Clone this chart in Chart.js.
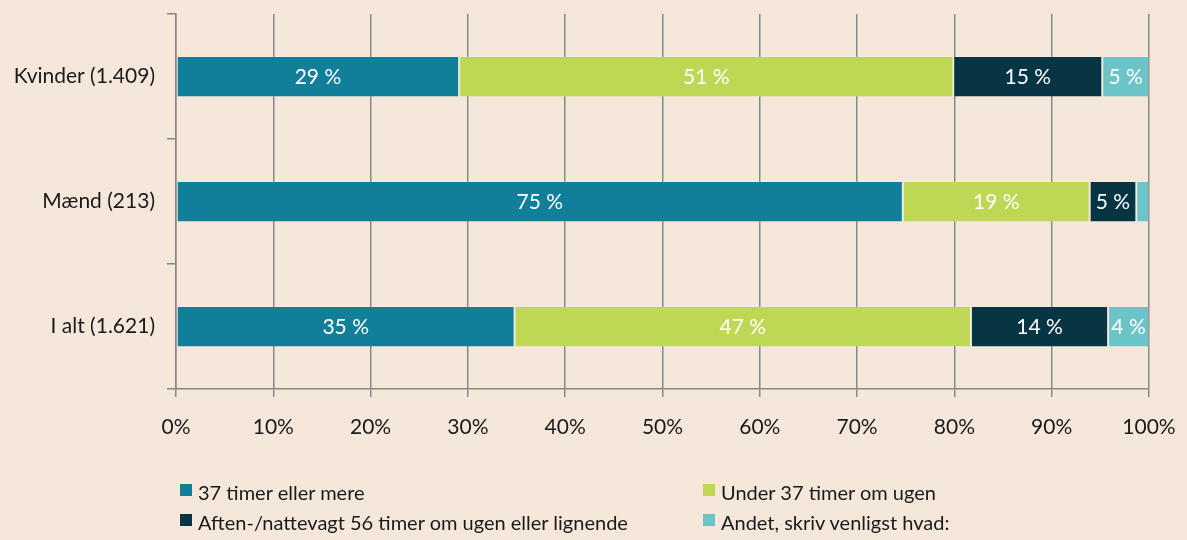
<!DOCTYPE html>
<html><head><meta charset="utf-8">
<script src="https://cdn.jsdelivr.net/npm/chart.js@4/dist/chart.umd.min.js"></script>
<style>
html,body{margin:0;padding:0;background:#F5E8DB;}
#wrap{position:relative;width:1187px;height:540px;background:#F5E8DB;}
canvas{position:absolute;left:0;top:0;}
#legend{position:absolute;left:180px;top:480px;display:grid;grid-template-columns:523px 400px;row-gap:7px;font-family:Lato,"Open Sans",sans-serif;font-size:20px;color:#1a1a1a;}
#legend .it{display:flex;align-items:center;height:23px;white-space:nowrap;}
#legend .sw{width:12px;height:12px;margin-right:6px;margin-top:-4px;}
</style></head>
<body><div id="wrap"><canvas id="c" width="1187" height="540"></canvas><div id="legend"></div></div>
<script>
const categories = ["Kvinder (1.409)", "Mænd (213)", "I alt (1.621)"];
const seriesNames = ["37 timer eller mere", "Under 37 timer om ugen", "Aften-/nattevagt 56 timer om ugen eller lignende", "Andet, skriv venligst hvad:"];
const s37 = [29.1, 74.7, 34.8];
const sUnder = [50.8, 19.2, 46.9];
const sNight = [15.3, 4.8, 14.1];
const sOther = [4.8, 1.3, 4.2];
const labels37 = ["29 %", "75 %", "35 %"];
const labelsUnder = ["51 %", "19 %", "47 %"];
const labelsNight = ["15 %", "5 %", "14 %"];
const labelsOther = ["5 %", "", "4 %"];
const xTicks = ["0%","10%","20%","30%","40%","50%","60%","70%","80%","90%","100%"];
const colors = ["#117E9A", "#BED856", "#073543", "#6BC4C8"];

const seriesData = [s37, sUnder, sNight, sOther];
const seriesLabels = [labels37, labelsUnder, labelsNight, labelsOther];
const FONT = 'Lato, "Open Sans", sans-serif';

const lg = document.getElementById('legend');
[0,1,2,3].forEach(i=>{
  const d=document.createElement('div');d.className='it';
  d.innerHTML='<span class="sw" style="background:'+colors[i]+'"></span><span></span>';
  d.lastChild.textContent=seriesNames[i];
  lg.appendChild(d);
});

const labelPlugin = {
  id:'segLabels',
  afterDatasetsDraw(chart){
    const ctx=chart.ctx;
    ctx.save();
    ctx.fillStyle='#ffffff';
    ctx.font='21px '+FONT;
    ctx.textAlign='center';ctx.textBaseline='middle';
    chart.data.datasets.forEach((ds,di)=>{
      const meta=chart.getDatasetMeta(di);
      meta.data.forEach((el,i)=>{
        const t=seriesLabels[di][i];
        if(!t) return;
        const cx=(el.x+el.base)/2;
        ctx.fillText(t,cx,el.y+1);
      });
    });
    ctx.restore();
  }
};

new Chart(document.getElementById('c'),{
  type:'bar',
  data:{
    labels:categories,
    datasets:seriesData.map((d,i)=>({
      label:seriesNames[i],data:d,backgroundColor:colors[i],
      borderColor:'rgba(255,255,255,0.12)',borderWidth:1,borderSkipped:false,
      barPercentage:0.33,categoryPercentage:1
    }))
  },
  options:{
    indexAxis:'y',responsive:false,animation:false,
    layout:{padding:{top:14,right:38,left:0,bottom:0}},
    plugins:{legend:{display:false},tooltip:{enabled:false}},
    scales:{
      x:{
        stacked:true,min:0,max:100,
        afterBuildTicks(s){s.ticks=xTicks.map((t,i)=>({value:i*10}));},
        ticks:{callback:(v,i)=>xTicks[i],color:'#1a1a1a',font:{family:FONT,size:21},padding:18,maxRotation:0},
        grid:{color:'#888888',lineWidth:1.5,tickLength:8,drawOnChartArea:true},
        border:{color:'#888888',width:1.5},
        afterFit(s){s.height=151;s.paddingLeft=0;s.paddingRight=0;}
      },
      y:{
        stacked:true,offset:true,
        ticks:{color:'#1a1a1a',font:{family:FONT,size:21},padding:12},
        grid:{offset:true,drawOnChartArea:false,color:'#888888',lineWidth:1.5,tickLength:9},
        border:{color:'#888888',width:1.5},
        afterFit(s){s.width=176;s.paddingTop=0;s.paddingBottom=0;}
      }
    }
  },
  plugins:[labelPlugin]
});
</script></body></html>
